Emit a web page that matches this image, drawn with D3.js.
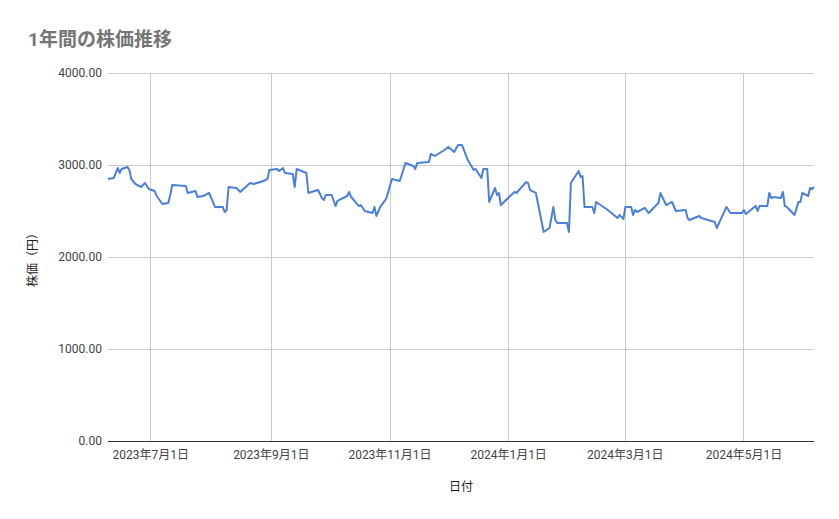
<!DOCTYPE html>
<html><head><meta charset="utf-8">
<script src="https://cdn.jsdelivr.net/npm/d3@7"></script>
<style>body{margin:0;background:#fff;font-family:Roboto,"Noto Sans CJK JP",sans-serif}</style>
</head><body><svg id="c" width="839" height="519"></svg>
<script>
const dates=["2023-06-09","2023-06-12","2023-06-14","2023-06-15","2023-06-16","2023-06-19","2023-06-20","2023-06-21","2023-06-23","2023-06-26","2023-06-28","2023-06-30","2023-07-03","2023-07-04","2023-07-07","2023-07-10","2023-07-11","2023-07-12","2023-07-19","2023-07-20","2023-07-24","2023-07-25","2023-07-28","2023-07-31","2023-08-03","2023-08-07","2023-08-08","2023-08-09","2023-08-10","2023-08-14","2023-08-16","2023-08-21","2023-08-23","2023-08-28","2023-08-30","2023-08-31","2023-09-04","2023-09-05","2023-09-07","2023-09-08","2023-09-12","2023-09-13","2023-09-14","2023-09-19","2023-09-20","2023-09-25","2023-09-27","2023-09-28","2023-09-29","2023-10-02","2023-10-04","2023-10-05","2023-10-10","2023-10-11","2023-10-12","2023-10-16","2023-10-17","2023-10-19","2023-10-23","2023-10-24","2023-10-25","2023-10-27","2023-10-30","2023-11-02","2023-11-06","2023-11-09","2023-11-13","2023-11-14","2023-11-15","2023-11-21","2023-11-22","2023-11-24","2023-11-29","2023-12-01","2023-12-04","2023-12-06","2023-12-08","2023-12-11","2023-12-14","2023-12-15","2023-12-18","2023-12-19","2023-12-21","2023-12-22","2023-12-25","2023-12-26","2023-12-27","2023-12-28","2024-01-04","2024-01-05","2024-01-10","2024-01-11","2024-01-12","2024-01-15","2024-01-19","2024-01-22","2024-01-24","2024-01-25","2024-01-26","2024-01-31","2024-02-01","2024-02-02","2024-02-06","2024-02-07","2024-02-08","2024-02-09","2024-02-13","2024-02-14","2024-02-15","2024-02-21","2024-02-26","2024-02-27","2024-02-29","2024-03-01","2024-03-04","2024-03-05","2024-03-06","2024-03-07","2024-03-11","2024-03-13","2024-03-18","2024-03-19","2024-03-22","2024-03-25","2024-03-27","2024-04-01","2024-04-02","2024-04-03","2024-04-08","2024-04-09","2024-04-16","2024-04-17","2024-04-22","2024-04-24","2024-04-30","2024-05-01","2024-05-02","2024-05-07","2024-05-08","2024-05-09","2024-05-13","2024-05-14","2024-05-15","2024-05-16","2024-05-20","2024-05-21","2024-05-22","2024-05-23","2024-05-27","2024-05-29","2024-05-30","2024-05-31","2024-06-03","2024-06-04","2024-06-05","2024-06-06"];
const prices=[2848,2859,2967,2913,2957,2978,2946,2848,2794,2761,2804,2739,2717,2663,2576,2587,2674,2783,2772,2696,2717,2652,2663,2696,2544,2544,2489,2511,2761,2750,2707,2804,2794,2826,2848,2946,2957,2935,2967,2913,2902,2761,2957,2913,2696,2728,2641,2620,2674,2674,2554,2609,2663,2707,2652,2554,2565,2500,2478,2544,2446,2544,2631,2848,2826,3022,2989,2957,3022,3033,3120,3098,3163,3196,3141,3218,3218,3054,2946,2957,2859,2957,2957,2598,2750,2674,2696,2565,2707,2696,2815,2804,2728,2696,2272,2315,2544,2402,2370,2370,2272,2804,2935,2870,2880,2544,2544,2478,2598,2511,2424,2457,2413,2544,2544,2457,2511,2489,2533,2478,2587,2696,2565,2598,2500,2511,2424,2402,2446,2424,2380,2315,2544,2478,2478,2511,2467,2554,2500,2554,2554,2696,2641,2652,2641,2707,2554,2544,2457,2598,2598,2696,2663,2750,2739,2761];
const yTicks=[0,1000,2000,3000,4000];
const xTickDates=["2023-07-01","2023-09-01","2023-11-01","2024-01-01","2024-03-01","2024-05-01"];

const parse=d3.timeParse("%Y-%m-%d");
const data=dates.map((d,i)=>({d:parse(d),v:prices[i]}));
const svg=d3.select("#c");
const L=108,R=814,T=73,B=441;
const x=d3.scaleTime().domain(d3.extent(data,d=>d.d)).range([L,R]);
const y=d3.scaleLinear().domain([0,4000]).range([B,T]);
const grid="#cccccc";
svg.append("g").selectAll("line").data(yTicks).join("line")
 .attr("x1",L).attr("x2",R).attr("y1",d=>y(d)).attr("y2",d=>y(d))
 .attr("stroke",d=>d===0?"#333":grid).attr("stroke-width",1).attr("shape-rendering","crispEdges");
svg.append("g").selectAll("line").data(xTickDates.map(parse)).join("line")
 .attr("x1",d=>x(d)).attr("x2",d=>x(d)).attr("y1",T).attr("y2",B)
 .attr("stroke",grid).attr("shape-rendering","crispEdges");
svg.append("g").selectAll("text").data(yTicks).join("text")
 .attr("x",L-6).attr("y",d=>y(d)+4).attr("text-anchor","end")
 .attr("font-size",12).attr("fill","#444").text(d=>d3.format(".2f")(d));
const fmt=d=>`${d.getFullYear()}年${d.getMonth()+1}月${d.getDate()}日`;
svg.append("g").selectAll("text").data(xTickDates.map(parse)).join("text")
 .attr("x",d=>x(d)).attr("y",459).attr("text-anchor","middle")
 .attr("font-size",12).attr("fill","#444").text(fmt);
svg.append("path").datum(data).attr("fill","none").attr("stroke","#4a80d8").attr("stroke-width",2)
 .attr("stroke-linejoin","round").attr("d",d3.line().x(d=>x(d.d)).y(d=>y(d.v)));
svg.append("text").attr("x",28).attr("y",46).attr("font-size",19).attr("font-weight","bold")
 .attr("fill","#757575").text("1年間の株価推移");
svg.append("text").attr("x",461).attr("y",491).attr("text-anchor","middle").attr("font-size",12).attr("fill","#222").text("日付");
svg.append("text").attr("transform","translate(37,257) rotate(-90)").attr("text-anchor","middle")
 .attr("font-size",12).attr("fill","#222").text("株価（円）");
</script></body></html>
